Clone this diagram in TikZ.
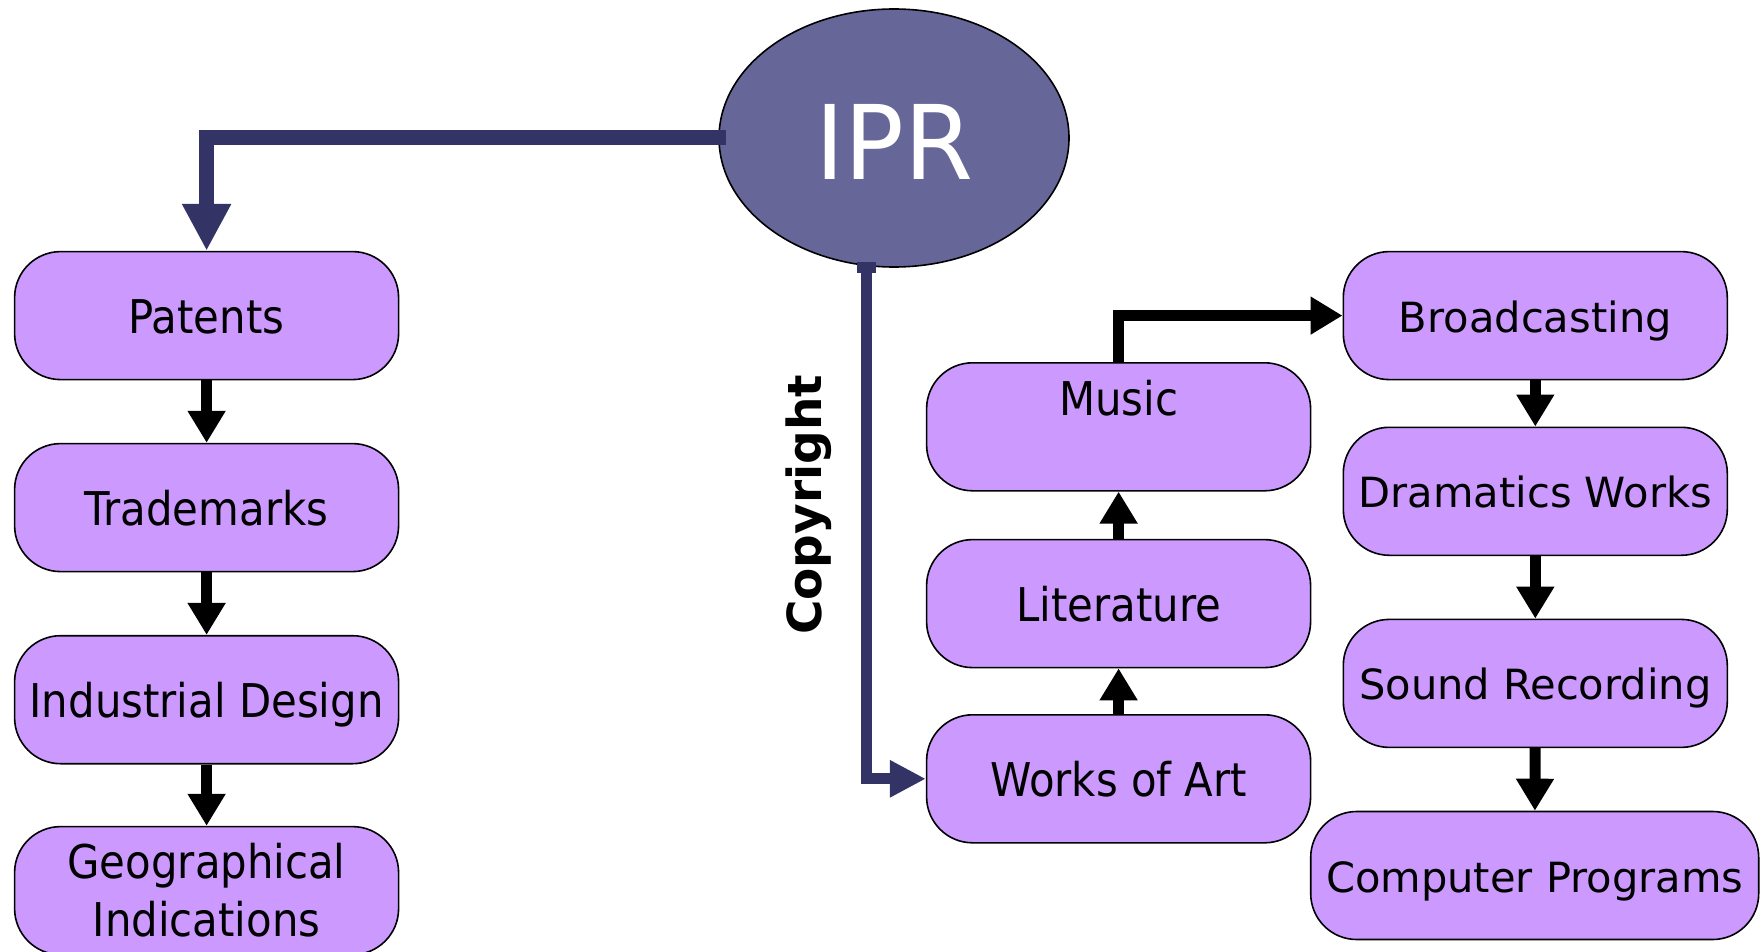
\documentclass[tikz,border=0pt]{standalone}
\usepackage{fontspec}
\usetikzlibrary{arrows.meta,shapes.geometric}
\newfontfamily\tahoma{DejaVu Sans Condensed}
\newfontfamily\iprfont[FakeStretch=1.07]{DejaVu Sans Condensed}
\newfontfamily\verdana{DejaVu Sans}
\definecolor{boxpurple}{RGB}{204,153,255}
\definecolor{iprfill}{RGB}{102,102,153}
\definecolor{iprnavy}{RGB}{51,51,102}
\tikzset{
  box/.style={draw=black, line width=1.6pt, fill=boxpurple, rounded corners=46pt,
    minimum width=384pt, minimum height=128pt, inner sep=0pt, align=center,
    font=\tahoma\fontsize{46.5}{58}\selectfont},
  topic/.style={box, text height=36pt, text depth=0pt},
  media/.style={box, font=\verdana\fontsize{41.6}{50}\selectfont, text height=33pt, text depth=0pt},
  link/.style={line width=11pt, line join=miter, -{Triangle[length=32pt,width=36pt]}},
}
\begin{document}
\begin{tikzpicture}[x=1pt,y=-1pt]
  \useasboundingbox (0,0) rectangle (1761,952);
  \node (ipr) at (894,138) [ellipse, draw=black, line width=1.6pt, fill=iprfill,
    minimum width=350pt, minimum height=258pt, text=white, text height=84pt, text depth=0pt,
    font=\iprfont\fontsize{103}{110}\selectfont] {IPR};
  % left column
  \node (pat) at (206.6,315.6) [topic] {Patents};
  \node (tm) at (206.6,507.6) [topic] {Trademarks};
  \node (ind) at (206.6,699.7) [topic] {Industrial Design};
  \node (geo) at (206.6,890.6) [box] {Geographical\\Indications};
  % copyright branch
  \node (copy) at (809,505) [rotate=90, font=\verdana\bfseries\fontsize{47}{50}\selectfont] {Copyright};
  \node (music) at (1118.6,426.8) [box] {Music\\~};
  \node (lit) at (1118.6,603.6) [topic] {Literature};
  \node (art) at (1118.6,778.8) [topic] {Works of Art};
  \node (broad) at (1535.3,315.6) [media] {Broadcasting};
  \node (drama) at (1535.3,491.3) [media] {Dramatics Works};
  \node (sound) at (1535.3,683.4) [media] {Sound Recording};
  \node (comp) at (1534.7,875.5) [media, minimum width=448pt] {Computer Programs};
  \coordinate (crtop) at (866.5,262);
  % connectors
  \draw[iprnavy, line width=15pt, line join=miter, -{Triangle[length=47pt,width=46pt]}]
    ([xshift=8pt]ipr.west) -| (pat.north);
  \draw[iprnavy, line width=11pt, line join=miter,
    {Square[length=11pt,width=19pt]}-{Triangle[length=36pt,width=35pt]}]
    (crtop) |- (art.west);
  \draw[link] (pat) -- (tm);
  \draw[link] (tm) -- (ind);
  \draw[link] (ind) -- (geo);
  \draw[link] (art) -- (lit);
  \draw[link] (lit) -- (music);
  \draw[link] (music.north) |- (broad.west);
  \draw[link] (broad) -- (drama);
  \draw[link] (drama) -- (sound);
  \draw[link] (sound) -- (comp);
\end{tikzpicture}
\end{document}
